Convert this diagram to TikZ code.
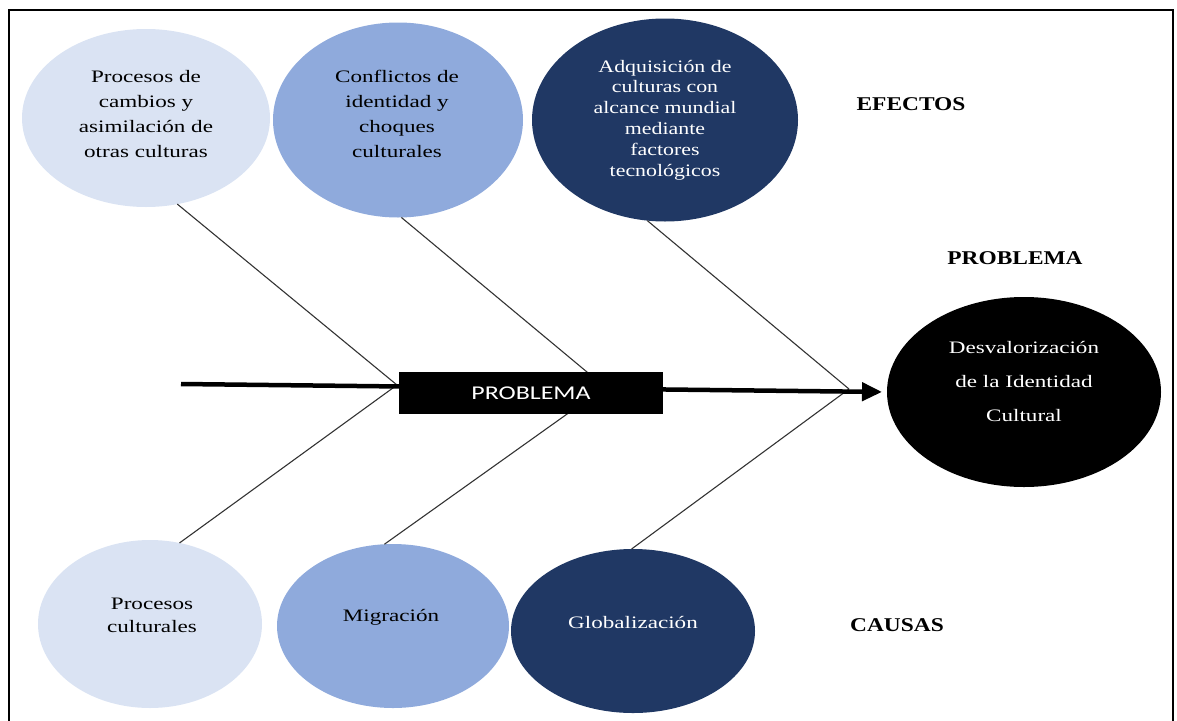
\documentclass[tikz,border=0pt]{standalone}
\usepackage{fontspec}
\setmainfont{Liberation Serif}[FakeStretch=1.32]
\newfontfamily\narrowser{Liberation Serif}[FakeStretch=1.25]
\newfontfamily\labfont{Liberation Serif}[FakeStretch=1.2]
\newfontfamily\boxfont{Carlito}[FakeStretch=1.33]
\usetikzlibrary{shapes.geometric,arrows.meta}
\definecolor{lightb}{HTML}{DAE3F3}
\definecolor{midb}{HTML}{8FAADC}
\definecolor{darkb}{HTML}{203864}
\begin{document}
\begin{tikzpicture}[x=1pt,y=-1pt,
  blob/.style={ellipse, draw=none, inner sep=0pt, outer sep=0pt},
  txt/.style={align=center, inner sep=0pt, font=\fontsize{17.5}{25}\selectfont},
  bone/.style={draw=black!80, line width=1.1pt},
  lab/.style={font=\labfont\bfseries\fontsize{19.5}{23}\selectfont, inner sep=0pt}]
\useasboundingbox (0,0) rectangle (1177,720);
% frame
\draw[line width=1.5pt] (9,740) -- (9,10) -- (1173,10) -- (1173,740);
% top ellipses (effects)
\node[blob, fill=lightb, minimum width=248pt, minimum height=178pt] (e1) at (146,118) {};
\node[blob, fill=midb, minimum width=250pt, minimum height=195pt] (e2) at (398,120) {};
\node[blob, fill=darkb, minimum width=266pt, minimum height=203pt] (e3) at (665,120) {};
% bottom ellipses (causes)
\node[blob, fill=lightb, minimum width=224pt, minimum height=168pt] (b1) at (150,624) {};
\node[blob, fill=midb, minimum width=232pt, minimum height=164pt] (b2) at (393,626) {};
\node[blob, fill=darkb, minimum width=244pt, minimum height=164pt] (b3) at (633,631) {};
% problem ellipse
\node[blob, fill=black, minimum width=274pt, minimum height=190pt] (dv) at (1024,392) {};
% texts
\node[txt] (t1) at (146,114) {Procesos de\\cambios y\\asimilación de\\otras culturas};
\node[txt] (t2) at (397,114) {Conflictos de\\identidad y\\choques\\culturales};
\node[txt, text=white, font=\narrowser\fontsize{17.5}{20.8}\selectfont] (t3) at (665,120)
  {Adquisición de\\culturas con\\alcance mundial\\mediante\\factores\\tecnológicos};
\node[txt, font=\fontsize{17.5}{23}\selectfont] (tb1) at (152,615) {Procesos\\culturales};
\node[txt] (tb2) at (391,617) {Migración};
\node[txt, text=white] (tb3) at (633,622) {Globalización};
\node[txt, text=white, font=\fontsize{17.5}{34}\selectfont] (dvt) at (1024,381)
  {Desvalorización\\de la Identidad\\Cultural};
\node[lab] (efectos) at (911,104.5) {EFECTOS};
\node[lab] (problab) at (1015,258.5) {PROBLEMA};
\node[lab] (causas) at (897,625.5) {CAUSAS};
% junctions and spine
\coordinate (tail) at (181,384);
\coordinate (j1) at (397,385);
\coordinate (j2) at (605,387);
\coordinate (j3) at (849,389);
\draw[bone] (e1.-70) -- (j1);
\draw[bone] (e2.-88) -- (j2);
\draw[bone] (e3.-100) -- (j3);
\draw[bone] (b1.70) -- (j1);
\draw[bone] (b2.96) -- (j2);
\draw[bone] (b3.91) -- (j3);
\draw[line width=4.5pt, shorten >=5pt, -{Triangle[length=20pt,width=18pt]}] (tail) -- (dv.west);
\node[fill=black, minimum width=264pt, minimum height=42pt, inner sep=0pt, text=white,
  font=\boxfont\fontsize{19.5}{23}\selectfont] (pb) at (531,393) {PROBLEMA};
\end{tikzpicture}
\end{document}
